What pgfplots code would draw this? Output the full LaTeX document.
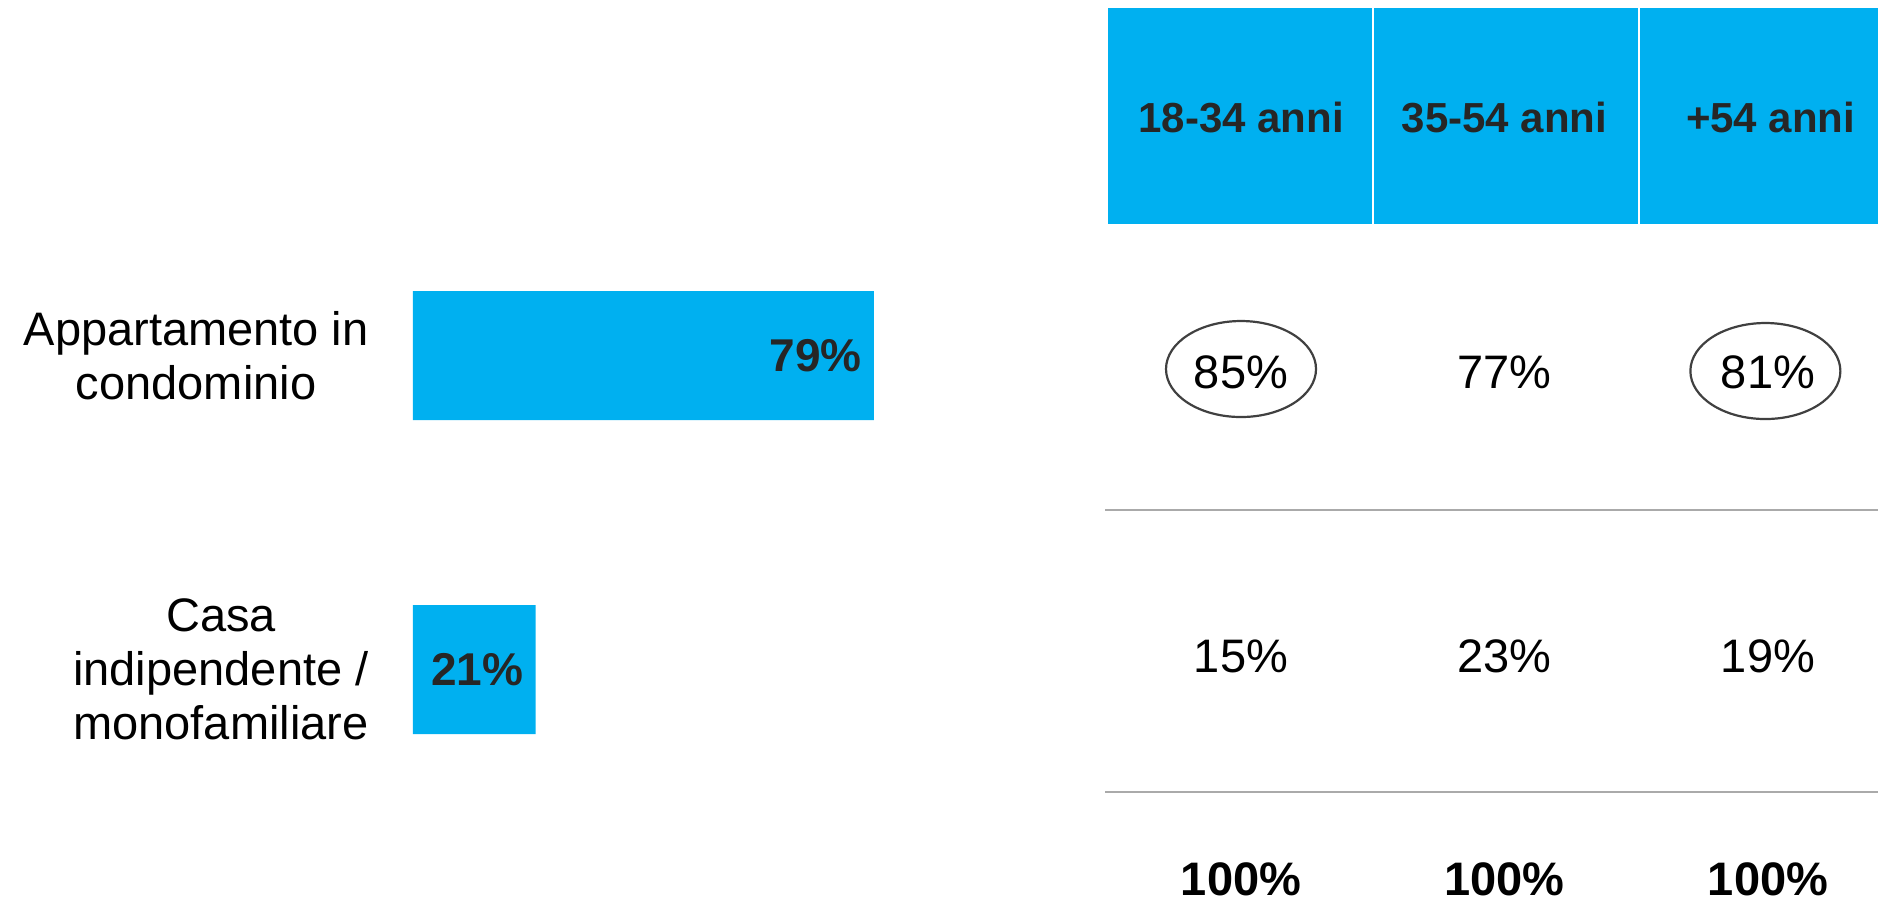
\documentclass[border=0pt]{standalone}
\usepackage{pgfplots}
\pgfplotsset{compat=1.18}
\usepackage{fontspec}
\setmainfont{Liberation Sans}
\definecolor{barblue}{RGB}{0,176,240}
\definecolor{txtdark}{RGB}{38,38,38}
\definecolor{sepgray}{RGB}{170,170,170}
\definecolor{ellgray}{RGB}{64,64,64}
\newcommand{\bigfont}{\fontsize{23.5}{27}\selectfont}
\begin{document}
\begin{tikzpicture}
\path[use as bounding box] (0,0) rectangle (939pt,-451pt);
% ---------------- bar chart (total) ----------------
\begin{axis}[
  at={(206.5pt,-413.25pt)}, anchor=south west,
  scale only axis, width=291.75pt, height=314pt,
  xmin=0, xmax=100, ymin=-0.5, ymax=1.5,
  hide axis, clip=false,
  xbar, bar width=64.5pt,
  /pgf/number format/assume math mode=true,
  nodes near coords={\pgfmathprintnumber{\pgfplotspointmeta}\%},
  nodes near coords align={left},
  every node near coord/.append style={font=\fontsize{23}{27}\selectfont\bfseries, text=txtdark, xshift=-2.5pt},
]
\addplot[fill=barblue, draw=none] coordinates {(79,1) (21,0)};
\node[anchor=east, align=center, inner sep=0pt, xshift=-22pt, font=\bigfont] at (axis cs:0,1) {Appartamento in\\condominio};
\node[anchor=east, align=center, inner sep=0pt, xshift=-22pt, font=\bigfont] at (axis cs:0,0) {Casa\\indipendente /\\monofamiliare};
\end{axis}
% ---------------- table by age ----------------
\begin{axis}[
  at={(0pt,0pt)}, anchor=north west,
  scale only axis, width=939pt, height=451pt,
  xmin=-4.7097, xmax=2.4175, ymin=0, ymax=902, y dir=reverse,
  hide axis, clip=false,
  /pgf/number format/assume math mode=true,
]
\fill[barblue] (axis cs:-0.505,8) rectangle (axis cs:2.4175,224);
\draw[white, line width=1pt] (axis cs:0.501,8) -- (axis cs:0.501,224);
\draw[white, line width=1pt] (axis cs:1.510,8) -- (axis cs:1.510,224);
\node[font=\fontsize{21}{25}\selectfont\bfseries, text=txtdark] at (axis cs:0,117) {18-34 anni};
\node[font=\fontsize{21}{25}\selectfont\bfseries, text=txtdark] at (axis cs:1,117) {35-54 anni};
\node[font=\fontsize{21}{25}\selectfont\bfseries, text=txtdark] at (axis cs:2.01,117) {+54 anni};
\draw[sepgray, line width=0.75pt] (axis cs:-0.516,510) -- (axis cs:2.4175,510);
\draw[sepgray, line width=0.75pt] (axis cs:-0.516,792) -- (axis cs:2.4175,792);
% row: Appartamento in condominio
\addplot[only marks, mark=none, point meta=explicit,
  nodes near coords={\pgfmathprintnumber{\pgfplotspointmeta}\%},
  nodes near coords align={anchor=center},
  every node near coord/.append style={font=\bigfont, text=black}]
  table[meta=v] {
x y v
0 372 85
1 372 77
2 372 81
};
% row: Casa indipendente / monofamiliare
\addplot[only marks, mark=none, point meta=explicit,
  nodes near coords={\pgfmathprintnumber{\pgfplotspointmeta}\%},
  nodes near coords align={anchor=center},
  every node near coord/.append style={font=\bigfont, text=black}]
  table[meta=v] {
x y v
0 656 15
1 656 23
2 656 19
};
% row: total
\addplot[only marks, mark=none, point meta=explicit,
  nodes near coords={\pgfmathprintnumber{\pgfplotspointmeta}\%},
  nodes near coords align={anchor=center},
  every node near coord/.append style={font=\bigfont\bfseries, text=black}]
  table[meta=v] {
x y v
0 879 100
1 879 100
2 879 100
};
% highlight ellipses
\addplot[only marks, mark=o, draw=ellgray, mark size=24pt,
  mark options={xscale=1.5625, draw=ellgray, fill=none, line width=1.1pt}]
  coordinates {(0,369) (1.99,371)};
\end{axis}
\end{tikzpicture}
\end{document}
